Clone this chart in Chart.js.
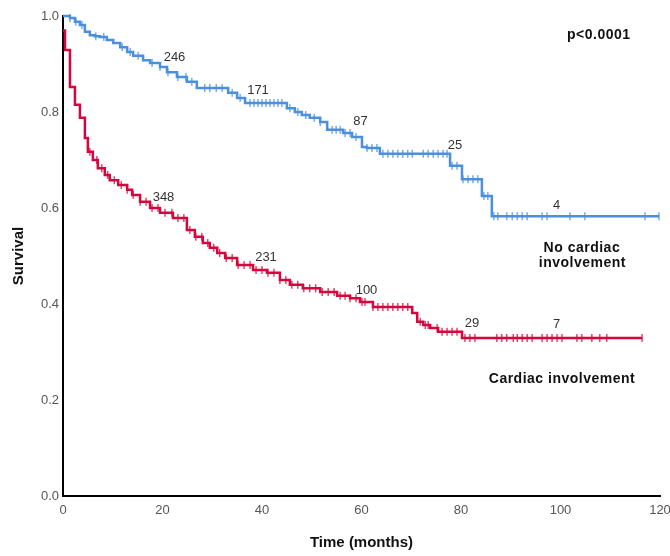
<!DOCTYPE html>
<html lang="en">
<head>
<meta charset="UTF-8">
<title>Survival by cardiac involvement</title>
<script src="https://cdn.jsdelivr.net/npm/chart.js"></script>
<style>
    body { margin: 0; background: #fff; }
    .wrap { width: 670px; height: 556px; }
</style>
</head>
<body>
<div class="wrap"><canvas id="km"></canvas></div>
<script>
    // Kaplan-Meier steps: time (months) and survival after each drop
    const blueT = [0, 1.4, 2.4, 3.4, 4.4, 5.4, 6.4, 7.4, 8.8, 10.1, 11.5, 12.9, 14.1, 16.1, 17.5, 19.5, 20.9, 22.9, 24.9, 26.9, 33.2, 35.0, 36.6, 45.0, 46.6, 48.0, 49.6, 51.7, 53.1, 56.3, 58.1, 60.1, 61.1, 63.7, 77.8, 80.2, 84.2, 86.2, 119.8];
    const blueS = [1.0, 0.996, 0.988, 0.981, 0.967, 0.960, 0.958, 0.956, 0.950, 0.944, 0.935, 0.925, 0.917, 0.908, 0.902, 0.894, 0.883, 0.873, 0.863, 0.850, 0.840, 0.829, 0.819, 0.808, 0.800, 0.794, 0.788, 0.779, 0.763, 0.756, 0.748, 0.727, 0.725, 0.713, 0.688, 0.660, 0.625, 0.583, 0.583];
    const blueCensor = [1.4, 2.6, 3.8, 6.6, 8.2, 11.9, 13.5, 15.1, 17.9, 19.5, 21.1, 23.1, 24.7, 25.9, 28.5, 29.5, 30.8, 32.0, 34.0, 35.6, 37.6, 38.4, 39.2, 40.0, 40.8, 41.6, 42.4, 43.2, 44.0, 45.6, 47.2, 48.8, 50.5, 51.7, 54.1, 54.9, 55.7, 56.7, 57.7, 58.9, 61.1, 62.1, 63.1, 64.3, 65.3, 66.3, 67.3, 68.3, 69.3, 70.2, 72.4, 73.4, 74.4, 75.4, 76.4, 77.2, 78.2, 79.2, 80.4, 81.4, 82.4, 83.4, 84.6, 85.4, 86.6, 87.4, 89.2, 90.3, 91.3, 92.3, 93.3, 96.3, 97.3, 101.9, 104.9, 117.0, 119.8];

    const redT = [0, 0.4, 1.4, 2.4, 3.4, 4.4, 5.0, 6.0, 7.0, 8.4, 9.4, 11.1, 12.9, 13.9, 15.5, 17.5, 19.5, 22.1, 24.9, 26.5, 28.1, 29.5, 31.0, 32.6, 35.0, 38.2, 41.0, 43.6, 45.6, 48.2, 51.7, 55.1, 57.7, 59.7, 62.3, 70.2, 71.2, 72.4, 73.8, 75.4, 80.2, 116.4];
    const redS = [0.97, 0.929, 0.852, 0.815, 0.788, 0.746, 0.717, 0.700, 0.683, 0.669, 0.658, 0.648, 0.638, 0.627, 0.613, 0.600, 0.590, 0.579, 0.554, 0.540, 0.527, 0.517, 0.506, 0.496, 0.481, 0.471, 0.465, 0.450, 0.440, 0.433, 0.425, 0.417, 0.412, 0.404, 0.394, 0.381, 0.363, 0.356, 0.350, 0.342, 0.329, 0.329];
    const redCensor = [5.4, 6.8, 7.8, 9.0, 10.3, 11.7, 12.9, 14.1, 15.5, 16.7, 17.9, 19.1, 20.5, 21.9, 23.1, 24.3, 25.5, 26.7, 27.9, 29.1, 30.3, 31.5, 32.8, 34.0, 35.2, 36.4, 37.6, 38.8, 40.0, 41.2, 42.4, 43.6, 44.8, 46.0, 47.2, 48.4, 49.6, 50.8, 52.1, 53.3, 54.5, 55.7, 56.7, 57.7, 58.9, 60.1, 60.7, 62.3, 63.3, 64.3, 65.3, 66.3, 67.3, 68.3, 69.3, 71.8, 72.8, 73.4, 75.2, 76.2, 77.2, 78.2, 79.2, 80.8, 81.8, 82.8, 87.2, 88.2, 89.2, 90.5, 91.3, 92.3, 93.3, 94.3, 96.3, 97.3, 98.3, 99.3, 100.3, 103.3, 104.3, 106.3, 107.9, 109.3, 116.4];

    // numbers at risk
    const riskTimes = [20, 40, 60, 80, 100];
    const blueAtRisk = [246, 171, 87, 25, 4];
    const redAtRisk = [348, 231, 100, 29, 7];

    const xTicks = [0, 20, 40, 60, 80, 100, 120];
    const yTicks = [0, 0.2, 0.4, 0.6, 0.8, 1.0];

    const BLUE = '#4a8fe0';
    const RED = '#d5063d';
    const FONT = 'Arial, "Liberation Sans", sans-serif';

    function survAt(ts, ss, t) {
        let s = ss[0];
        for (let i = 0; i < ts.length; i++) {
            if (ts[i] <= t) s = ss[i];
        }
        return s;
    }

    const pts = (ts, ss) => ts.map((t, i) => ({ x: t, y: ss[i] }));
    const censorPts = (cs, ts, ss) => cs.map(t => ({ x: t, y: survAt(ts, ss, t) }));

    // pixel nudges for the at-risk numbers (relative to the curve at that time)
    const blueNudge = [[12, -9], [-4, -12], [-1, -16], [-6, -20], [-4, -11]];
    const redNudge = [[1, -15], [4, -12], [5, -12], [11, -8], [-4, -14]];

    const notes = [
        { text: 'p<0.0001', x: 107.7, y: 0.960 },
        { text: 'No cardiac', x: 104.3, y: 0.517 },
        { text: 'involvement', x: 104.4, y: 0.486 },
        { text: 'Cardiac involvement', x: 100.3, y: 0.244 }
    ];

    const textPlugin = {
        id: 'kmText',
        afterDatasetsDraw(chart) {
            const ctx = chart.ctx;
            const xs = chart.scales.x, ys = chart.scales.y;
            ctx.save();
            ctx.textAlign = 'center';
            ctx.textBaseline = 'middle';
            ctx.fillStyle = '#333';
            ctx.font = '13px ' + FONT;
            riskTimes.forEach((t, i) => {
                const bx = xs.getPixelForValue(t), by = ys.getPixelForValue(survAt(blueT, blueS, t));
                ctx.fillText(String(blueAtRisk[i]), bx + blueNudge[i][0], by + blueNudge[i][1]);
                const ry = ys.getPixelForValue(survAt(redT, redS, t));
                ctx.fillText(String(redAtRisk[i]), bx + redNudge[i][0], ry + redNudge[i][1]);
            });
            ctx.fillStyle = '#111';
            ctx.font = 'bold 14px ' + FONT;
            ctx.letterSpacing = '0.5px';
            notes.forEach(n => {
                ctx.fillText(n.text, xs.getPixelForValue(n.x), ys.getPixelForValue(n.y));
            });
            ctx.restore();
        }
    };

    new Chart(document.getElementById('km'), {
        type: 'scatter',
        data: {
            datasets: [
                { data: pts(blueT, blueS), showLine: true, stepped: true, borderColor: BLUE, borderWidth: 2.5, pointRadius: 0, clip: false },
                { data: censorPts(blueCensor, blueT, blueS), pointStyle: 'line', rotation: 90, pointRadius: 4, borderWidth: 1.3, borderColor: 'rgba(74,143,224,0.85)', clip: false },
                { data: pts(redT, redS), showLine: true, stepped: true, borderColor: RED, borderWidth: 2.5, pointRadius: 0, clip: false },
                { data: censorPts(redCensor, redT, redS), pointStyle: 'line', rotation: 90, pointRadius: 4, borderWidth: 1.3, borderColor: 'rgba(213,6,61,0.85)', clip: false }
            ]
        },
        options: {
            responsive: true,
            maintainAspectRatio: false,
            animation: false,
            layout: { padding: { top: 16, right: 10, left: 0, bottom: 0 } },
            plugins: { legend: { display: false }, tooltip: { enabled: false } },
            scales: {
                x: {
                    type: 'linear', min: 0, max: 120,
                    afterBuildTicks: s => { s.ticks = xTicks.map(v => ({ value: v })); },
                    afterFit: s => { s.height = 60; s.paddingRight = 0; },
                    grid: { display: false, drawTicks: false },
                    border: { display: true, color: '#000', width: 2 },
                    ticks: { color: '#555', font: { size: 13, family: FONT }, padding: 7, maxRotation: 0 },
                    title: { display: true, text: 'Time (months)', color: '#111', font: { size: 15, weight: 'bold', family: FONT }, padding: { top: 4, bottom: 4 } }
                },
                y: {
                    min: 0, max: 1,
                    afterBuildTicks: s => { s.ticks = yTicks.map(v => ({ value: v })); },
                    afterFit: s => { s.width = 63; },
                    grid: { display: false, drawTicks: false },
                    border: { display: true, color: '#000', width: 2 },
                    ticks: { color: '#555', font: { size: 13, family: FONT }, padding: 4, callback: v => v.toFixed(1) },
                    title: { display: true, text: 'Survival', color: '#111', font: { size: 15, weight: 'bold', family: FONT }, padding: { top: 10, bottom: 0 } }
                }
            }
        },
        plugins: [textPlugin]
    });
</script>
</body>
</html>
